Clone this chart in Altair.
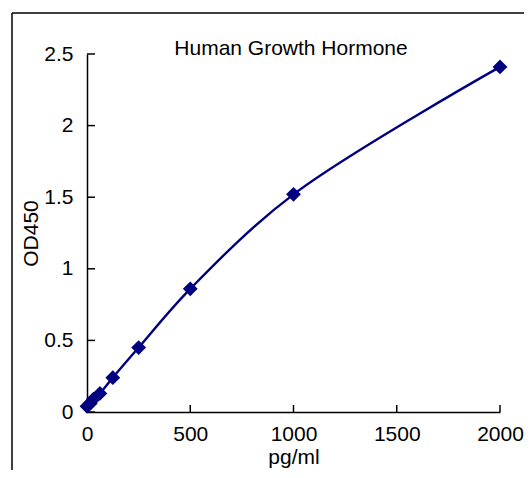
import altair as alt
import pandas as pd

conc = [0, 15.6, 31.25, 62.5, 125, 250, 500, 1000, 2000]
od = [0.04, 0.06, 0.09, 0.13, 0.24, 0.45, 0.86, 1.52, 2.41]
x_ticks = [0, 500, 1000, 1500, 2000]
y_ticks = [0, 0.5, 1, 1.5, 2, 2.5]
title_text = ["Human Growth Hormone"]

FONT = "Liberation Sans"
NAVY = "#000080"

df = pd.DataFrame({"conc": conc, "od": od})
xt = pd.DataFrame({"v": x_ticks})
yt = pd.DataFrame({"v": y_ticks})
tt = pd.DataFrame({"t": title_text})

xscale = alt.Scale(domain=[0, 2000], nice=False, zero=True)
yscale = alt.Scale(domain=[0, 2.5], nice=False, zero=True)

xaxis = alt.Axis(values=x_ticks, format="d", title="pg/ml", grid=False, ticks=False, tickSize=0,
                 labelFont=FONT, labelFontSize=21, labelColor="black", labelPadding=11,
                 titleFont=FONT, titleFontSize=21, titleFontWeight="normal", titleColor="black",
                 titlePadding=2, domainColor="black", domainWidth=1.5, labelFlush=False)
yaxis = alt.Axis(values=y_ticks, format="~g", title="OD450", grid=False, ticks=False, tickSize=0,
                 labelFont=FONT, labelFontSize=21, labelColor="black", labelPadding=14,
                 titleFont=FONT, titleFontSize=21, titleFontWeight="normal", titleColor="black",
                 titlePadding=2, domainColor="black", domainWidth=1.5, labelFlush=False)

line = alt.Chart(df).mark_line(color=NAVY, strokeWidth=2.4, interpolate="catmull-rom").encode(
    x=alt.X("conc:Q", scale=xscale, axis=xaxis),
    y=alt.Y("od:Q", scale=yscale, axis=yaxis),
)
pts = alt.Chart(df).mark_point(shape="diamond", filled=True, color=NAVY, size=220, opacity=1).encode(
    x=alt.X("conc:Q", scale=xscale),
    y=alt.Y("od:Q", scale=yscale),
)
ytk = alt.Chart(yt).mark_rule(color="black", strokeWidth=1.5).encode(
    y=alt.Y("v:Q", scale=yscale), x=alt.value(0), x2=alt.value(8)
)
xtk = alt.Chart(xt).mark_rule(color="black", strokeWidth=1.5).encode(
    x=alt.X("v:Q", scale=xscale), y=alt.value(358), y2=alt.value(351)
)
frame_l = alt.Chart(tt).mark_rule(color="black", strokeWidth=1.5).encode(
    x=alt.value(-75), y=alt.value(-41), y2=alt.value(420)
)
frame_t = alt.Chart(tt).mark_rule(color="black", strokeWidth=1.5).encode(
    x=alt.value(-75), x2=alt.value(440), y=alt.value(-41)
)
title = alt.Chart(tt).mark_text(font=FONT, fontSize=21, color="black", align="center",
                                baseline="alphabetic").encode(
    text="t:N", x=alt.value(204), y=alt.value(1)
)

chart = alt.layer(frame_l, frame_t, ytk, xtk, line, pts, title).properties(
    width=413, height=358,
    autosize=alt.AutoSizeParams(type="none"),
    padding={"left": 79, "top": 46, "right": 24, "bottom": 58},
).configure_view(stroke=None)

chart.save("out.html", embed_options={"renderer": "svg", "actions": False})
